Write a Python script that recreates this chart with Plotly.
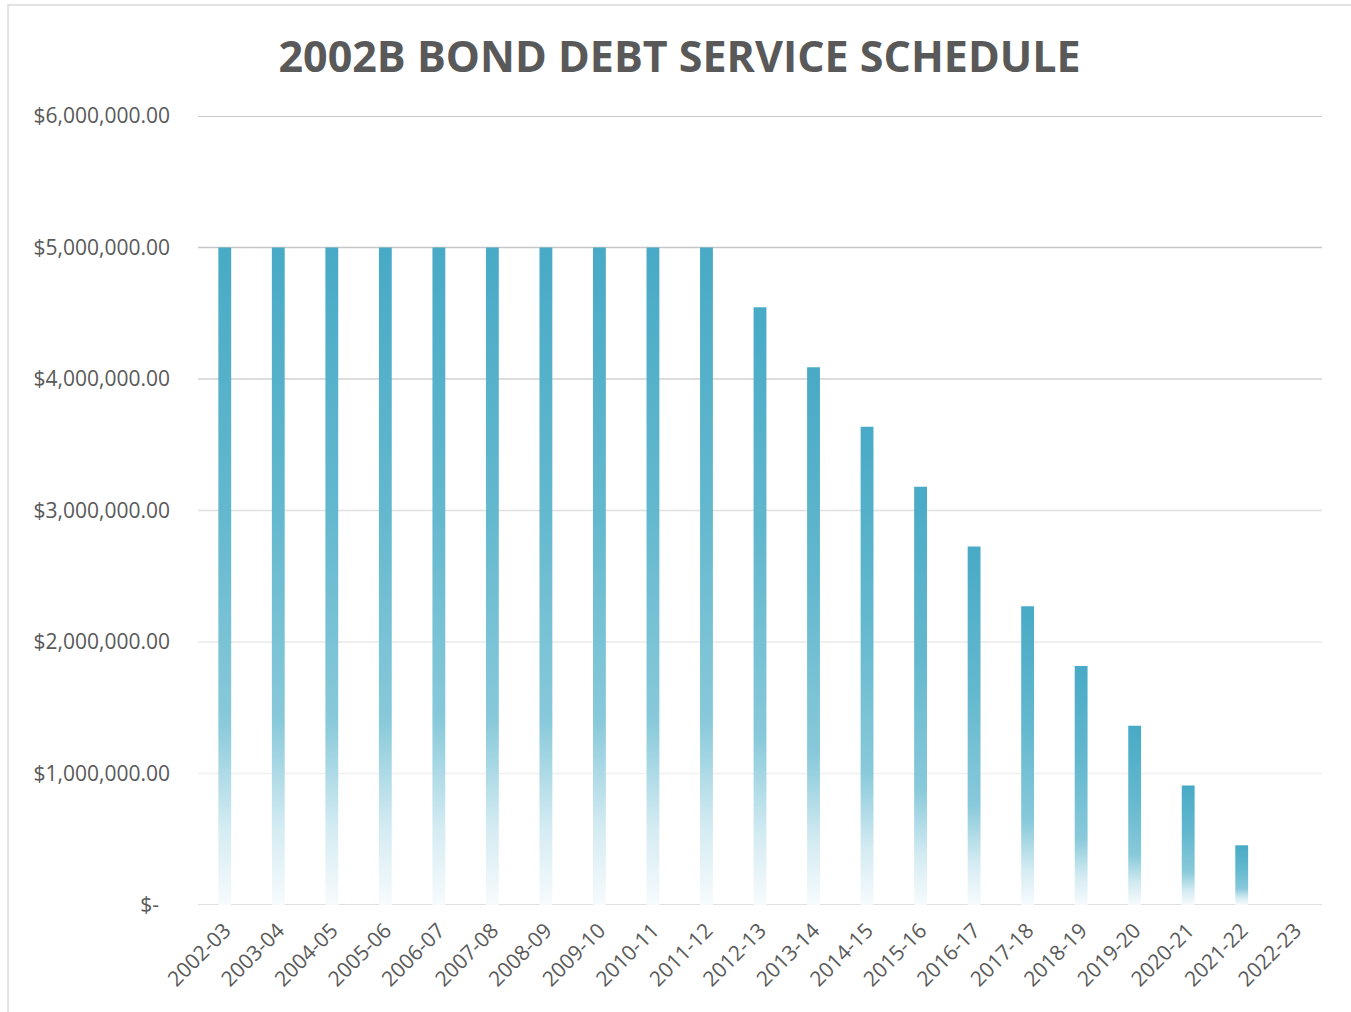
import plotly.graph_objects as go

# Fiscal years and annual debt service for the 2002B bond
fiscal_years = ["2002-03", "2003-04", "2004-05", "2005-06", "2006-07", "2007-08",
                "2008-09", "2009-10", "2010-11", "2011-12", "2012-13", "2013-14",
                "2014-15", "2015-16", "2016-17", "2017-18", "2018-19", "2019-20",
                "2020-21", "2021-22", "2022-23"]
debt_service = [5000000, 5000000, 5000000, 5000000, 5000000, 5000000,
                5000000, 5000000, 5000000, 5000000, 4545000, 4090000,
                3636000, 3181000, 2727000, 2272000, 1818000, 1363000,
                909000, 454000, 0]

y_tick_values = [0, 1000000, 2000000, 3000000, 4000000, 5000000, 6000000]
y_tick_labels = ["$-\u00a0\u00a0", "$1,000,000.00", "$2,000,000.00", "$3,000,000.00",
                 "$4,000,000.00", "$5,000,000.00", "$6,000,000.00"]
grid_colors = ["#D6D6D6", "#F0F0F0", "#EAEAEA", "#E0E0E0", "#D2D2D2", "#C6C6C6", "#BBBBBB"]

BAR_HALF = 0.12
bar_scale = [[0.0, "#F7FBFD"], [0.12, "#D3EBF2"], [0.28, "#88C9DA"],
             [0.6, "#63B8CE"], [1.0, "#48AAC6"]]

fig = go.Figure()

# Each bar is a filled rectangle with a vertical gradient from teal to white
for i, v in enumerate(debt_service):
    if v <= 0:
        continue
    fig.add_trace(go.Scatter(
        x=[i - BAR_HALF, i + BAR_HALF, i + BAR_HALF, i - BAR_HALF, i - BAR_HALF],
        y=[0, 0, v, v, 0],
        mode="lines",
        fill="toself",
        line=dict(width=0, color="rgba(0,0,0,0)"),
        fillgradient=dict(type="vertical", colorscale=bar_scale, start=0, stop=v),
        hoverinfo="skip",
        showlegend=False,
    ))

# Horizontal gridlines with graded tones
shapes = []
for val, col in zip(y_tick_values, grid_colors):
    shapes.append(dict(type="line", xref="paper", yref="y", x0=0, x1=1, y0=val, y1=val,
                       line=dict(color=col, width=1.7), layer="below"))
# Chart frame (top and left edges)
shapes.append(dict(type="rect", xref="paper", yref="paper",
                   x0=-0.169, x1=1.2, y0=-0.3, y1=1.1407,
                   line=dict(color="#D9D9D9", width=1.5), layer="below"))

fig.update_layout(
    width=1351, height=1012,
    margin=dict(l=198, r=29, t=116, b=107),
    paper_bgcolor="white", plot_bgcolor="white",
    title=dict(text="<b>2002B BOND DEBT SERVICE SCHEDULE</b>", x=0.503, xref="container",
               xanchor="center", y=0.944, yanchor="middle",
               font=dict(family="Open Sans", size=43, color="#595959")),
    font=dict(family="Open Sans", color="#595959"),
    shapes=shapes,
    xaxis=dict(range=[-0.5, len(fiscal_years) - 0.5], tickmode="array",
               tickvals=list(range(len(fiscal_years))), ticktext=fiscal_years,
               tickangle=-45, tickfont=dict(size=21, color="#595959"),
               showgrid=False, zeroline=False, showline=False, ticks="",
               ticklabelstandoff=8),
    yaxis=dict(range=[0, 6000000], tickmode="array", tickvals=y_tick_values,
               ticktext=y_tick_labels, tickfont=dict(size=21, color="#595959"),
               showgrid=False, zeroline=False, showline=False, ticks="",
               ticklabelstandoff=27),
)

fig.write_html("out.html")
